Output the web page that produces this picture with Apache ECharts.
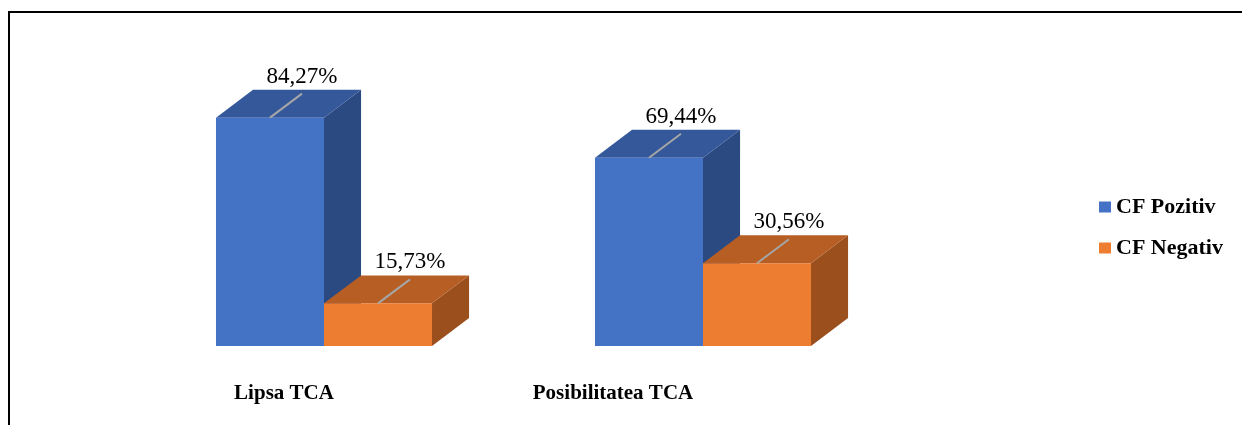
<!DOCTYPE html>
<html>
<head>
<meta charset="utf-8">
<script src="https://cdn.jsdelivr.net/npm/echarts@6/dist/echarts.min.js"></script>
<style>
  html, body { margin: 0; padding: 0; background: #fff; }
  #chart { position: absolute; left: 0; top: 0; width: 1242px; height: 425px; }
  #frame {
    position: absolute; left: 8px; top: 11px; right: 0; bottom: 0;
    border-top: 2px solid #000; border-left: 2px solid #000;
    pointer-events: none;
  }
</style>
</head>
<body>
<div id="chart"></div>
<div id="frame"></div>
<script>
// date
var categories = ['Lipsa TCA', 'Posibilitatea TCA'];
var seriesNames = ['CF Pozitiv', 'CF Negativ'];
var pozitiv = [84.27, 69.44];
var negativ = [15.73, 30.56];

var serif = "'Liberation Serif', 'Times New Roman', serif";
// fata, sus, lateral
var shades = [
  ['#4472C4', '#34589A', '#2B4A82'],
  ['#ED7D31', '#B65E23', '#9B4F1D']
];

function fmt(v) {
  return v.toFixed(2).replace('.', ',') + '%';
}

var render3d = function(idx) {
  return function(params, api) {
    var cat = api.value(0);
    var val = api.value(1);
    var top = api.coord([cat, val]);
    var base = api.coord([cat, 0]);
    var band = api.size([1, 0])[0];
    var w = band * 0.285;
    var x0 = idx === 0 ? top[0] - w : top[0];
    var dx = w * 0.343, dy = -w * 0.259;
    var t = top[1], b = base[1];
    var c = shades[idx];
    var lx = x0 + w / 2, ly = t;
    var ex = lx + 32, ey = t - 24;
    return {
      type: 'group',
      children: [
        {
          type: 'polygon',
          shape: { points: [[x0 + w, t], [x0 + w + dx, t + dy], [x0 + w + dx, b + dy], [x0 + w, b]] },
          style: { fill: c[2] }
        },
        {
          type: 'polygon',
          shape: { points: [[x0, t], [x0 + dx, t + dy], [x0 + w + dx, t + dy], [x0 + w, t]] },
          style: { fill: c[1] }
        },
        {
          type: 'rect',
          shape: { x: x0, y: t, width: w, height: b - t },
          style: { fill: c[0] }
        },
        {
          type: 'line',
          shape: { x1: lx, y1: ly, x2: ex, y2: ey },
          style: { stroke: '#A6A6A6', lineWidth: 2 }
        },
        {
          type: 'text',
          x: ex, y: ey - 17,
          style: {
            text: fmt(val),
            font: '23px ' + serif,
            fill: '#000',
            align: 'center',
            verticalAlign: 'middle'
          }
        }
      ]
    };
  };
};

var chart = echarts.init(document.getElementById('chart'));
var option = {
  animation: false,
  backgroundColor: 'transparent',
  legend: {
    orient: 'vertical',
    left: 1094,
    top: 191,
    itemWidth: 12,
    itemHeight: 11,
    itemGap: 19,
    icon: 'rect',
    data: seriesNames,
    textStyle: { fontFamily: serif, fontSize: 22, fontWeight: 'bold', color: '#000' }
  },
  grid: [
    { left: 134.5, width: 758, top: 75, height: 271 },
    { left: 119.5, width: 658, top: 75, height: 271 }
  ],
  xAxis: [
    {
      type: 'category', gridIndex: 0, data: categories,
      axisLine: { show: false }, axisTick: { show: false }, axisLabel: { show: false }
    },
    {
      type: 'category', gridIndex: 1, data: categories,
      axisLine: { show: false }, axisTick: { show: false },
      axisLabel: { margin: 37, fontFamily: serif, fontSize: 21, fontWeight: 'bold', color: '#000' }
    }
  ],
  yAxis: [
    { type: 'value', gridIndex: 0, min: 0, max: 100, show: false },
    { type: 'value', gridIndex: 1, min: 0, max: 100, show: false }
  ],
  series: [
    {
      name: seriesNames[0],
      type: 'custom',
      xAxisIndex: 0, yAxisIndex: 0,
      itemStyle: { color: shades[0][0] },
      renderItem: render3d(0),
      data: pozitiv.map(function(v, i) { return [i, v]; })
    },
    {
      name: seriesNames[1],
      type: 'custom',
      xAxisIndex: 0, yAxisIndex: 0,
      itemStyle: { color: shades[1][0] },
      renderItem: render3d(1),
      data: negativ.map(function(v, i) { return [i, v]; })
    }
  ]
};
chart.setOption(option);
</script>
</body>
</html>
